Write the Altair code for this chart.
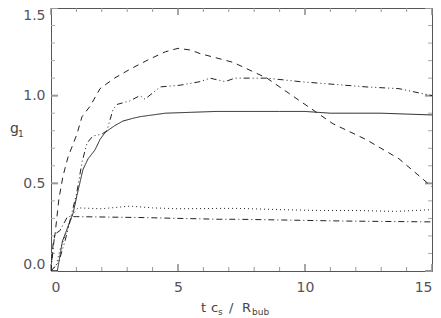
import altair as alt
import pandas as pd

# ---- data ----
solid_x = [0, 0.25, 0.45, 0.87, 1.02, 1.26, 1.46, 1.73, 1.93, 2.13, 2.32, 2.52, 2.83, 3.2, 3.5, 4.0, 4.5, 5.5, 6.5, 8, 9, 10, 11, 12, 13, 14, 15]
solid_y = [0, 0.0, 0.17, 0.33, 0.43, 0.58, 0.64, 0.69, 0.75, 0.79, 0.81, 0.83, 0.855, 0.87, 0.88, 0.89, 0.90, 0.905, 0.91, 0.91, 0.91, 0.91, 0.90, 0.90, 0.90, 0.895, 0.89]

dashed_x = [0, 0.08, 0.16, 0.31, 0.47, 0.67, 1.02, 1.22, 1.54, 1.93, 2.5, 3.1, 3.9, 4.5, 5.0, 5.5, 5.87, 7.17, 8.5, 9.8, 11.1, 12.4, 13.7, 15]
dashed_y = [0, 0.15, 0.21, 0.41, 0.54, 0.65, 0.78, 0.88, 0.94, 1.04, 1.10, 1.15, 1.21, 1.25, 1.27, 1.26, 1.24, 1.19, 1.10, 0.97, 0.84, 0.75, 0.64, 0.48]

dotted_x = [0, 0.2, 0.35, 0.6, 0.85, 1.06, 2, 3.1, 4, 5, 6.65, 7.4, 9, 10.6, 12, 13.6, 15]
dotted_y = [0, 0.03, 0.12, 0.22, 0.32, 0.36, 0.355, 0.37, 0.36, 0.355, 0.357, 0.357, 0.35, 0.345, 0.345, 0.34, 0.35]

dashdot_x = [0, 0.1, 0.15, 0.35, 0.65, 1.0, 3.5, 6.65, 7.4, 11.5, 15]
dashdot_y = [0, 0.15, 0.21, 0.23, 0.31, 0.31, 0.305, 0.295, 0.295, 0.285, 0.28]

dashdotdot_x = [0, 0.3, 0.55, 1.02, 1.22, 1.42, 1.65, 2.0, 2.2, 2.44, 2.6, 3.1, 3.5, 3.7, 4.3, 5.1, 5.87, 6.26, 6.85, 7.24, 8.5, 9.8, 11.1, 12.4, 13.7, 15]
dashdotdot_y = [0, 0.05, 0.17, 0.45, 0.62, 0.73, 0.77, 0.78, 0.80, 0.92, 0.95, 0.97, 1.00, 0.98, 1.05, 1.06, 1.08, 1.10, 1.08, 1.10, 1.10, 1.08, 1.065, 1.05, 1.04, 1.00]

x_major = [0, 5, 10, 15]
x_minor = [1, 2, 3, 4, 6, 7, 8, 9, 11, 12, 13, 14]
y_major = [0.0, 0.5, 1.0, 1.5]
y_minor = [0.1, 0.2, 0.3, 0.4, 0.6, 0.7, 0.8, 0.9, 1.1, 1.2, 1.3, 1.4]

names = ["solid", "dashed", "dotted", "dashdot", "dashdotdot"]
dashes = [[1, 0], [6, 5], [1, 3], [6, 3, 1, 3], [6, 3, 1, 3, 1, 3]]

rows = []
for name, xs_, ys_ in [("solid", solid_x, solid_y), ("dashed", dashed_x, dashed_y),
                       ("dotted", dotted_x, dotted_y), ("dashdot", dashdot_x, dashdot_y),
                       ("dashdotdot", dashdotdot_x, dashdotdot_y)]:
    for i, (a, b) in enumerate(zip(xs_, ys_)):
        rows.append({"series": name, "t": a, "g": b, "i": i})
df = pd.DataFrame(rows)

W, H = 381, 263
FONT = "DejaVu Sans"
xs = alt.Scale(domain=[0, 15], nice=False, zero=False)
ys = alt.Scale(domain=[0, 1.5], nice=False, zero=False)

lines = alt.Chart(df).mark_line(strokeWidth=1, color="#222", clip=True).encode(
    x=alt.X("t:Q", scale=xs, axis=alt.Axis(values=x_major, format="d", labelPadding=9, title=None)),
    y=alt.Y("g:Q", scale=ys, axis=alt.Axis(values=y_major, format=".1f", labelPadding=6, labelFlush=True, title=None)),
    strokeDash=alt.StrokeDash("series:N", scale=alt.Scale(domain=names, range=dashes), legend=None),
    order=alt.Order("i:Q"),
)

xmaj = pd.DataFrame({"t": x_major})
xmin = pd.DataFrame({"t": x_minor})
ymaj = pd.DataFrame({"g": y_major})
ymin = pd.DataFrame({"g": y_minor})

def xticks(d, L, col, w):
    b = alt.Chart(d).mark_rule(color=col, strokeWidth=w).encode(
        x=alt.X("t:Q", scale=xs), y=alt.value(H), y2=alt.value(H - L))
    t = alt.Chart(d).mark_rule(color=col, strokeWidth=w).encode(
        x=alt.X("t:Q", scale=xs), y=alt.value(0), y2=alt.value(L))
    return b + t

def yticks(d, L, col, w):
    l = alt.Chart(d).mark_rule(color=col, strokeWidth=w).encode(
        y=alt.Y("g:Q", scale=ys), x=alt.value(0), x2=alt.value(L))
    r = alt.Chart(d).mark_rule(color=col, strokeWidth=w).encode(
        y=alt.Y("g:Q", scale=ys), x=alt.value(W), x2=alt.value(W - L))
    return l + r

ticks = (xticks(xmaj, 7, "#888", 1.5) + xticks(xmin, 4, "#999", 1)
         + yticks(ymaj, 7, "#999", 2) + yticks(ymin, 4, "#aaa", 1))

one = pd.DataFrame({"k": [0]})

def txt(s, x, y, size):
    return alt.Chart(one).mark_text(text=s, align="left", baseline="alphabetic",
                                    font=FONT, fontSize=size, color="#444").encode(
        x=alt.value(x), y=alt.value(y))

titles = (txt("t", 150, 304, 13) + txt("c", 160, 304, 13) + txt("s", 167, 307, 9)
          + txt("/", 178, 304, 13) + txt("R", 191, 304, 13) + txt("bub", 201, 307, 9)
          + txt("g", -41, 125, 14) + txt("1", -33, 129, 9))

chart = alt.layer(ticks, lines, titles).properties(
    width=W, height=H,
    padding={"left": 43, "top": 0, "right": 1, "bottom": 47},
    autosize="none",
).configure_view(stroke="#555", strokeWidth=1).configure_axis(
    grid=False, ticks=False, domain=False, labelFont=FONT, labelFontSize=14,
    labelColor="#555",
)

chart.save("out.html", embed_options={"renderer": "svg", "actions": False})
